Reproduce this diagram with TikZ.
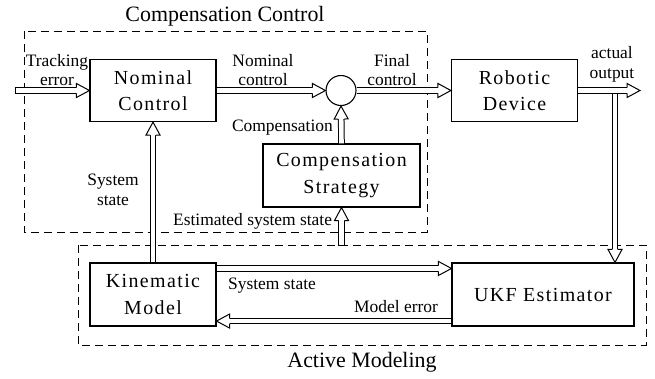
\documentclass[tikz,border=0pt]{standalone}
\usepackage{fontspec}
\setmainfont{Liberation Serif}
\newfontfamily\blockfont[LetterSpace=7]{Liberation Serif}
\usetikzlibrary{decorations.markings,calc}

\tikzset{
  block/.style={draw, line width=1.1bp, minimum width=#1, minimum height=62bp,
    inner sep=0pt, align=center, font=\blockfont\fontsize{20}{26.5}\selectfont},
  block/.default=126bp,
  group/.style={draw, line width=0.8bp, dash pattern=on 8bp off 5bp},
  lbl/.style={font=\fontsize{17.5}{20}\selectfont, inner sep=0pt, align=center},
  ttl/.style={font=\fontsize{22}{26}\selectfont, inner sep=0pt},
  % hollow double-line arrow: shaft, then an open triangular head
  shaft/.style={draw, double=white, double distance=4.6bp, line width=1bp,
    shorten >=12.5bp},
  head/.style={decorate, decoration={markings,
    mark=at position 1 with {\draw[line width=1bp, fill=white, line join=miter]
      (-13,2.8) -- (-13,7) -- (0,0) -- (-13,-7) -- (-13,-2.8);}}},
  tail/.style={decorate, decoration={markings,
    mark=at position 0 with {\draw[line width=1bp] (0.5,-3.3) -- (0.5,3.3);}}},
}
% #1 start, #2 end (coordinates with parentheses)
\newcommand{\fatarrow}[2]{%
  \path[shaft] #1 -- #2;
  \path[head] #1 -- #2;}
\newcommand{\fatarrowclosed}[2]{%
  \path[shaft] #1 -- #2;
  \path[head] #1 -- #2;
  \path[tail] #1 -- #2;}

\begin{document}
\begin{tikzpicture}[x=1bp, y=-1bp]
\useasboundingbox (0,0) rectangle (655,378);

% group frames
\draw[group] (24,31) rectangle (427,232);
\draw[group] (78,245) rectangle (646,345);
\node[ttl] (ccttl) at (225,16) {Compensation Control};
\node[ttl] (amttl) at (362,362) {Active Modeling};

% blocks
\node[block] (nom) at (153,90.5) {Nominal\\Control};
\node[block] (rob) at (514.5,90.5) {Robotic\\Device};
\node[block=157bp, minimum height=63bp] (cs) at (341.5,175.5) {Compensation\\Strategy};
\node[block, minimum height=63bp] (kin) at (153,294.5) {Kinematic\\Model};
\node[block=182bp, minimum height=63bp] (ukf) at (543,294.5) {UKF Estimator};
\node[draw, line width=1.1bp, circle, minimum size=30bp, inner sep=0pt] (sum) at (341,90.5) {};

% free ends
\coordinate (in) at (14.5,90.5);
\coordinate (out) at (640,90.5);
\coordinate (tap) at (615,93.8);
\coordinate (est) at (341.5,246);
\coordinate (s1) at ($(kin.north east)+(0,6)$);
\coordinate (m1) at ($(ukf.south west)+(0,-5.5)$);

% connectors
\fatarrowclosed{(in)}{(nom.west)}
\fatarrow{(nom.east)}{(sum.west)}
\fatarrow{(sum.east)}{(rob.west)}
\fatarrow{(rob.east)}{(out)}
\fatarrow{(tap)}{(tap |- ukf.north)}
\fatarrow{(cs.north)}{(sum.south)}
\fatarrowclosed{(est)}{(cs.south)}
\fatarrow{(kin.north)}{(nom.south)}
\fatarrow{(s1)}{(s1 -| ukf.west)}
\fatarrow{(m1)}{(m1 -| kin.east)}

% labels
\node[lbl] (ltrack) at (57,70) {Tracking\\error};
\node[lbl] (lnom) at (263,70) {Nominal\\control};
\node[lbl] (lfin) at (392,70) {Final\\control};
\node[lbl] (lact) at (612,64) {actual\\output};
\node[lbl, anchor=east] (lcomp) at (333,128) {Compensation};
\node[lbl] (lsys) at (113,190) {System\\state};
\node[lbl, anchor=west] (lest) at (173,221) {Estimated system state};
\node[lbl] (lsys2) at (272,286) {System state};
\node[lbl] (lmod) at (396,307) {Model error};
\end{tikzpicture}
\end{document}
